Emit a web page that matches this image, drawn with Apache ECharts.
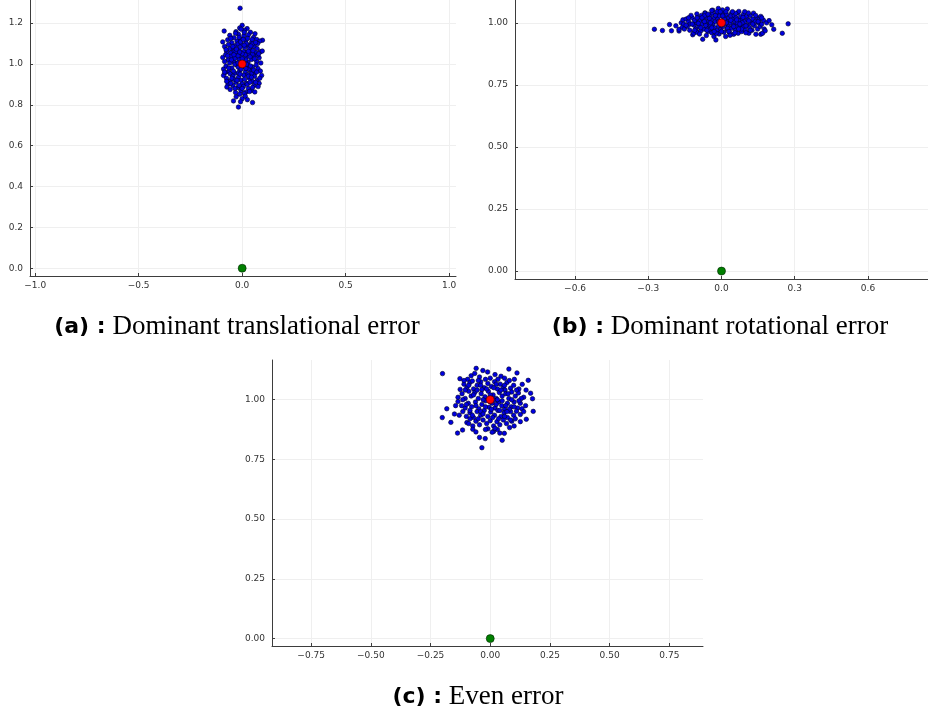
<!DOCTYPE html>
<html>
<head>
<meta charset="utf-8">
<script src="https://cdn.jsdelivr.net/npm/echarts@6/dist/echarts.min.js"></script>
<style>
  html, body { margin: 0; padding: 0; background: #fff; }
  #chart { width: 928px; height: 716px; }
</style>
</head>
<body>
<div id="chart"></div>
<script>
// (a) dominant translational error: sampled poses [x, y]
const samplesA = [
  [0.0,1.189],[0.024,1.173],[-0.087,1.161],[-0.012,1.176],[0.012,1.165],[-0.03,1.158],[0.04,1.155],[-0.005,1.17],
  [-0.094,1.108],[0.098,1.116],[-0.06,1.14],[-0.04,1.128],[-0.018,1.145],[0.008,1.138],[0.03,1.142],[0.055,1.13],
  [0.07,1.12],[0.085,1.112],[-0.07,1.118],[-0.025,1.112],[0.018,1.115],[0.045,1.105],[-0.05,1.104],[0.062,1.148],
  [-0.008,1.122],[0.075,1.1],
  [-0.085,1.085],[-0.066,1.095],[-0.048,1.075],[-0.032,1.09],[-0.015,1.07],[0.0,1.095],[0.012,1.08],[0.028,1.092],
  [0.04,1.068],[0.058,1.085],[0.072,1.075],[0.088,1.06],[0.097,1.063],[-0.075,1.06],[-0.055,1.055],[-0.02,1.098],
  [0.022,1.058],[0.05,1.098],[-0.038,1.062],[0.006,1.06],[0.065,1.055],[-0.01,1.083],[0.035,1.078],[-0.06,1.075],
  [-0.094,1.032],[-0.08,1.045],[-0.068,1.02],[-0.052,1.038],[-0.04,1.01],[-0.028,1.045],[-0.015,1.025],[-0.004,1.04],
  [0.01,1.015],[0.02,1.035],[0.032,1.048],[0.045,1.022],[0.058,1.04],[0.07,1.012],[0.082,1.03],[0.09,1.005],
  [-0.06,1.005],[-0.022,1.005],[0.028,1.008],[0.05,1.048],[-0.085,1.012],[0.075,1.044],[0.015,1.045],[-0.035,1.028],
  [-0.09,0.975],[-0.078,0.99],[-0.065,0.962],[-0.05,0.98],[-0.036,0.955],[-0.025,0.995],[-0.012,0.968],[0.002,0.985],
  [0.015,0.96],[0.026,0.992],[0.038,0.97],[0.05,0.985],[0.063,0.958],[0.076,0.978],[0.088,0.965],[-0.058,0.952],
  [0.012,0.995],[0.045,0.952],[-0.082,0.958],[0.068,0.995],[-0.018,0.955],[0.03,0.975],
  [-0.09,0.944],[-0.076,0.93],[-0.06,0.915],[-0.045,0.94],[-0.03,0.91],[-0.018,0.935],[-0.005,0.92],[0.008,0.945],
  [0.02,0.905],[0.035,0.93],[0.048,0.915],[0.06,0.94],[0.072,0.92],[0.094,0.944],[0.082,0.905],[-0.068,0.9],
  [0.0,0.902],[0.028,0.948],[-0.04,0.925],
  [-0.074,0.887],[-0.058,0.875],[-0.045,0.895],[-0.032,0.86],[-0.02,0.885],[-0.006,0.87],[0.006,0.89],[0.018,0.862],
  [0.03,0.88],[0.045,0.87],[0.058,0.895],[0.077,0.889],[0.061,0.863],[0.01,0.855],[-0.012,0.852],
  [-0.042,0.819],[-0.029,0.839],[-0.018,0.789],[0.05,0.811],[0.0,0.83],[0.015,0.842],[-0.008,0.815],[0.025,0.825],
  [-0.01,1.273],
  [-0.01,1.0],[0.005,1.005],[-0.02,0.985],[0.018,1.02],[-0.03,1.06],[0.03,0.94],[-0.01,0.95],[0.0,1.05],[0.02,1.1],[-0.015,1.13],
  [-0.045,1.085],[-0.028,1.072],[-0.008,1.108],[0.01,1.092],[0.026,1.125],[0.042,1.088],[0.052,1.065],[-0.052,1.02],
  [-0.035,0.998],[-0.02,1.04],[0.0,1.025],[0.022,0.998],[0.038,1.035],[0.06,1.025],[-0.065,0.98],[-0.042,0.965],
  [-0.005,0.975],[0.018,0.978],[0.04,0.99],[0.055,0.97],[-0.05,0.93],[-0.025,0.92],[0.012,0.925],[0.045,0.935],
  [0.065,0.91],[-0.035,0.88],[0.0,0.88],[0.035,0.865],[-0.055,0.905],[0.025,0.9],[-0.07,1.04],[0.08,1.05],
  [-0.078,1.07],[0.065,1.105],[-0.032,1.15],[0.01,1.155],[0.048,1.12],[-0.055,1.125],[0.03,1.062],[-0.012,1.058],
  [0.005,1.12],[-0.04,1.045],[0.07,0.96],[-0.075,0.915],[0.05,0.885],[-0.015,0.895],[0.085,0.93],[-0.085,0.96],
  [0.038,0.91],[-0.02,1.005]
];

// (b) dominant rotational error
const samplesB = [
  [-0.275,0.974],[-0.242,0.969],[-0.213,0.993],[-0.205,0.968],[-0.187,0.988],[-0.174,0.967],[-0.174,0.974],[-0.165,1.0],
  [-0.158,1.012],[-0.16,0.982],[-0.152,0.975],[-0.155,0.995],
  [-0.145,1.015],[-0.14,0.985],[-0.135,1.005],[-0.13,0.97],[-0.128,0.995],[-0.12,1.02],[-0.118,0.952],[-0.114,0.958],
  [-0.112,0.99],[-0.108,1.008],[-0.105,0.975],[-0.101,1.036],[-0.1,0.962],[-0.102,1.0],[-0.125,1.03],
  [-0.095,1.022],[-0.092,0.985],[-0.088,1.01],[-0.085,0.968],[-0.082,1.03],[-0.078,0.995],[-0.077,0.934],[-0.075,1.015],
  [-0.072,0.975],[-0.068,1.04],[-0.067,1.039],[-0.065,1.0],[-0.062,0.949],[-0.06,0.985],[-0.058,1.02],[-0.055,0.965],
  [-0.052,1.008],[-0.05,0.99],[-0.09,0.955],[-0.07,1.028],
  [-0.048,1.03],[-0.045,0.975],[-0.042,1.012],[-0.04,0.96],[-0.036,1.051],[-0.035,0.995],[-0.031,0.945],[-0.03,1.022],
  [-0.028,0.98],[-0.025,1.005],[-0.023,0.931],[-0.02,1.035],[-0.018,0.97],[-0.015,1.015],[-0.013,1.058],[-0.012,0.988],
  [-0.01,0.955],[-0.008,1.028],[-0.005,1.0],[-0.003,0.975],[-0.038,1.04],[-0.022,0.958],[-0.044,0.99],
  [0.002,1.04],[0.004,1.052],[0.005,0.985],[0.008,1.012],[0.01,0.962],[0.012,1.025],[0.015,0.995],[0.017,0.945],
  [0.02,1.035],[0.022,0.975],[0.024,1.056],[0.025,1.008],[0.028,0.985],[0.03,1.02],[0.033,0.96],[0.036,1.0],
  [0.04,1.038],[0.042,0.978],[0.045,1.015],[0.048,0.99],[0.05,0.954],[0.018,1.045],[0.038,1.028],
  [0.052,1.03],[0.055,1.005],[0.058,0.97],[0.06,1.02],[0.063,0.988],[0.066,1.04],[0.068,0.958],[0.071,1.046],
  [0.072,1.01],[0.075,0.98],[0.078,1.025],[0.08,0.995],[0.083,0.965],[0.086,1.015],[0.09,1.035],[0.092,0.985],
  [0.095,1.005],[0.098,0.97],[0.065,1.0],[0.085,1.0],
  [0.102,1.025],[0.105,0.99],[0.108,1.012],[0.112,0.958],[0.115,0.98],[0.118,1.03],[0.12,1.0],[0.125,0.97],
  [0.128,1.015],[0.131,1.039],[0.135,0.988],[0.138,1.005],[0.141,0.954],[0.145,1.022],[0.148,0.975],
  [0.152,1.0],[0.155,1.015],[0.158,0.985],[0.161,1.026],[0.161,0.954],[0.165,0.995],[0.168,0.958],[0.172,1.01],
  [0.175,0.975],[0.179,0.968],[0.185,1.0],[0.195,1.009],[0.206,0.992],[0.214,0.974],[0.249,0.958],[0.273,0.996],
  [-0.11,1.01],[-0.095,0.998],[-0.08,1.02],[-0.065,0.99],[-0.05,1.018],[-0.04,0.98],[-0.025,1.03],[-0.012,1.005],
  [0.0,0.99],[0.012,1.015],[0.025,0.978],[0.038,1.01],[0.05,0.985],[0.062,1.012],[0.075,0.995],[0.088,1.022],
  [0.1,0.988],[0.112,1.008],[-0.085,0.98],[-0.055,1.035],[-0.03,0.965],[0.005,1.028],[0.03,0.965],[0.058,1.038],
  [0.082,0.975],[0.11,1.04],[-0.12,0.995],[-0.135,1.02],[0.128,0.995],[0.14,1.03],[-0.1,1.02],[-0.07,1.005],
  [-0.045,1.0],[-0.018,1.045],[0.0,0.965],[0.02,1.0],[0.045,1.045],[0.07,0.975],[0.095,1.045],[0.118,0.97],
  [-0.06,0.97],[0.15,1.005],[-0.145,0.99],[0.165,1.02],[-0.11,0.97],[0.035,0.95],[-0.04,1.05],[0.1,0.96],
  [-0.005,1.045],[0.055,0.96]
];

// (c) even error
const samplesC = [
  [-0.2,1.109],[-0.059,1.131],[-0.031,1.122],[-0.011,1.116],[0.078,1.128],[0.112,1.112],[-0.127,1.088],[0.101,1.085],
  [0.159,1.081],[-0.08,1.1],[-0.045,1.095],[0.02,1.105],[0.045,1.098],[0.06,1.09],[-0.095,1.085],[0.0,1.09],
  [-0.065,1.11],[0.032,1.085],
  [-0.126,1.043],[-0.11,1.065],[-0.098,1.05],[-0.085,1.072],[-0.07,1.045],[-0.055,1.06],[-0.04,1.075],[-0.025,1.05],
  [-0.01,1.068],[0.005,1.055],[0.018,1.075],[0.03,1.045],[0.042,1.065],[0.055,1.05],[0.07,1.072],[0.085,1.048],
  [0.098,1.06],[0.134,1.064],[0.12,1.045],[-0.075,1.078],[0.062,1.04],[-0.035,1.042],
  [-0.135,1.01],[-0.118,1.025],[-0.105,1.005],[-0.09,1.035],[-0.08,1.015],[-0.065,1.03],[-0.05,1.005],[-0.038,1.025],
  [-0.022,1.012],[-0.008,1.035],[0.012,1.02],[0.025,1.005],[0.038,1.03],[0.05,1.015],[0.065,1.025],[0.078,1.005],
  [0.09,1.032],[0.105,1.015],[0.118,1.028],[0.169,1.027],[0.177,1.004],[0.14,1.01],[0.13,1.005],
  [-0.135,0.992],[-0.182,0.962],[-0.12,0.975],[-0.105,0.965],[-0.092,0.985],[-0.078,0.97],[-0.062,0.99],[-0.048,0.962],
  [-0.035,0.98],[-0.02,0.995],[-0.005,0.968],[0.008,0.985],[0.02,0.965],[0.035,0.99],[0.048,0.975],[0.06,0.96],
  [0.072,0.985],[0.088,0.97],[0.1,0.99],[0.115,0.965],[0.126,0.985],[0.133,0.962],[0.148,0.975],[-0.145,0.975],[0.015,0.998],
  [-0.201,0.925],[-0.115,0.95],[-0.13,0.935],[-0.1,0.93],[-0.085,0.945],[-0.07,0.925],[-0.055,0.95],[-0.04,0.935],
  [-0.025,0.955],[-0.01,0.93],[0.002,0.948],[0.018,0.935],[0.032,0.955],[0.045,0.93],[0.058,0.945],[0.072,0.925],
  [0.085,0.95],[0.098,0.935],[0.11,0.952],[0.18,0.951],[0.151,0.918],[0.126,0.938],
  [-0.165,0.905],[-0.098,0.904],[-0.085,0.92],[-0.06,0.91],[-0.045,0.895],[-0.03,0.915],[-0.015,0.9],[0.0,0.912],
  [0.014,0.89],[0.028,0.908],[0.04,0.895],[0.055,0.915],[0.068,0.9],[0.081,0.883],[0.09,0.91],[0.126,0.908],
  [0.105,0.92],[-0.073,0.89],
  [-0.137,0.86],[-0.116,0.873],[-0.073,0.876],[-0.035,0.799],[-0.021,0.837],[-0.045,0.842],[0.05,0.83],[0.059,0.859],
  [0.014,0.867],[0.008,0.864],[-0.01,0.878],[0.03,0.875],[-0.06,0.865],[0.04,0.86],
  [-0.09,1.06],[-0.07,1.02],[-0.05,1.08],[-0.03,1.0],[-0.015,1.045],[0.0,1.02],[0.015,1.05],[0.03,1.0],
  [0.045,1.04],[0.06,1.06],[0.075,1.025],[0.09,1.0],[-0.1,0.98],[-0.085,0.955],[-0.06,0.975],[-0.04,0.95],
  [-0.02,0.97],[0.005,0.96],[0.025,0.98],[0.04,0.955],[0.065,0.975],[0.08,0.96],[0.1,0.97],[-0.075,0.935],
  [-0.05,0.92],[-0.03,0.94],[0.01,0.925],[0.035,0.92],[0.06,0.93],[0.085,0.915],[-0.115,1.0],[0.12,0.995],
  [-0.04,1.06],[0.025,1.065],[0.08,1.08],[-0.02,1.085],[0.11,1.04],[-0.105,1.04],[0.0,0.99],[-0.055,1.04],
  [0.05,0.995],[0.07,0.95],[-0.09,0.9],[0.02,0.88],[-0.02,0.875],[0.1,0.89],[0.14,0.95],[-0.15,0.94],
  [0.15,1.04],[-0.11,1.08]
];

const goalPoint = [[0, 1]];
const startPoint = [[0, 0]];

const xTicksA = [-1.0, -0.5, 0.0, 0.5, 1.0];
const yTicksA = [0.0, 0.2, 0.4, 0.6, 0.8, 1.0, 1.2];
const xTicksB = [-0.6, -0.3, 0.0, 0.3, 0.6];
const yTicksB = [0.0, 0.25, 0.5, 0.75, 1.0];
const xTicksC = [-0.75, -0.5, -0.25, 0.0, 0.25, 0.5, 0.75];
const yTicksC = [0.0, 0.25, 0.5, 0.75, 1.0];

const captions = [
  ['(a) :', 'Dominant translational error'],
  ['(b) :', 'Dominant rotational error'],
  ['(c) :', 'Even error']
];

const axisColor = '#3d3d3d';

function fmt(digits) {
  return function (v) {
    return Number(v).toFixed(digits).replace('-', '\u2212');
  };
}

function makeAxis(type, idx, min, max, ticks, digits) {
  return {
    type: 'value',
    gridIndex: idx,
    min: min,
    max: max,
    axisLine: { show: true, onZero: false, lineStyle: { color: axisColor, width: 1 } },
    axisTick: { show: true, inside: true, length: 3, customValues: ticks, lineStyle: { color: axisColor } },
    axisLabel: {
      customValues: ticks,
      formatter: fmt(digits),
      color: '#333',
      fontSize: 9,
      fontFamily: 'DejaVu Sans',
      margin: type === 'x' ? 5 : 7,
      showMinLabel: true,
      showMaxLabel: true
    },
    splitLine: { show: true, lineStyle: { color: '#efefef', width: 1 } }
  };
}

const panels = [
  { grid: { left: 30, right: 472, top: -3, bottom: 440 }, x: [-1.025, 1.033], y: [-0.038, 1.313],
    xt: xTicksA, yt: yTicksA, xd: 1, yd: 1, data: samplesA },
  { grid: { left: 515, right: -7, top: 0, bottom: 437 }, x: [-0.846, 0.846], y: [-0.032, 1.092],
    xt: xTicksB, yt: yTicksB, xd: 1, yd: 2, data: samplesB },
  { grid: { left: 272, right: 225, top: 360, bottom: 70 }, x: [-0.914, 0.891], y: [-0.031, 1.166],
    xt: xTicksC, yt: yTicksC, xd: 2, yd: 2, data: samplesC }
];

const chart = echarts.init(document.getElementById('chart'));

const option = {
  animation: false,
  backgroundColor: '#fff',
  grid: [],
  xAxis: [],
  yAxis: [],
  series: [],
  graphic: []
};

panels.forEach(function (p, i) {
  option.grid.push(p.grid);
  option.xAxis.push(makeAxis('x', i, p.x[0], p.x[1], p.xt, p.xd));
  option.yAxis.push(makeAxis('y', i, p.y[0], p.y[1], p.yt, p.yd));
  option.series.push({
    type: 'scatter', xAxisIndex: i, yAxisIndex: i, data: p.data,
    symbolSize: 4.5,
    itemStyle: { color: '#0000e0', borderColor: '#000022', borderWidth: 0.6, opacity: 1 }
  });
  option.series.push({
    type: 'scatter', xAxisIndex: i, yAxisIndex: i, data: goalPoint, symbolSize: 8, z: 5,
    itemStyle: { color: '#ff0000', borderColor: '#330000', borderWidth: 0.6, opacity: 1 }
  });
  option.series.push({
    type: 'scatter', xAxisIndex: i, yAxisIndex: i, data: startPoint, symbolSize: 8, z: 5,
    itemStyle: { color: '#008000', borderColor: '#002200', borderWidth: 0.6, opacity: 1 }
  });
});

const captionPos = [[237, 327], [720, 327], [478, 697]];
captions.forEach(function (c, i) {
  option.graphic.push({
    type: 'text',
    x: captionPos[i][0],
    y: captionPos[i][1],
    style: {
      text: '{b|' + c[0] + '}{r| ' + c[1] + '}',
      align: 'center',
      verticalAlign: 'middle',
      rich: {
        b: { fontFamily: 'DejaVu Sans', fontWeight: 'bold', fontSize: 22, fill: '#000' },
        r: { fontFamily: 'Liberation Serif', fontSize: 27, fill: '#000' }
      }
    }
  });
});

chart.setOption(option);
</script>
</body>
</html>
